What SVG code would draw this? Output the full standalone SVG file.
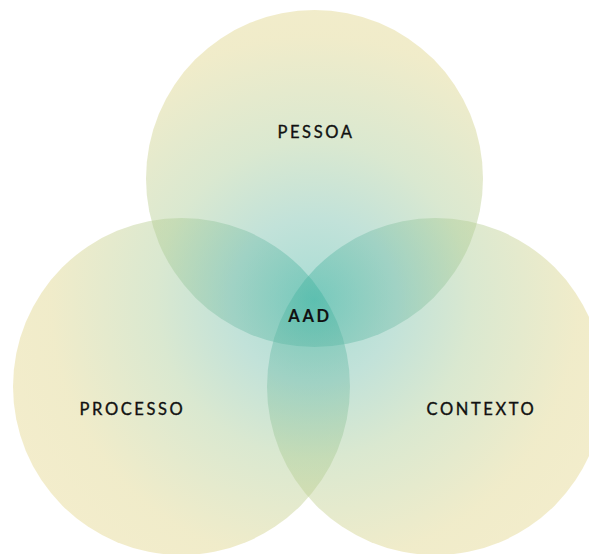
<svg xmlns="http://www.w3.org/2000/svg" width="589" height="554" viewBox="0 0 589 554">
  <defs>
    <radialGradient id="g" gradientUnits="userSpaceOnUse" cx="314" cy="300" r="330">
      <stop offset="0" stop-color="rgb(60,178,160)"/>
      <stop offset="0.25" stop-color="rgb(118,190,170)"/>
      <stop offset="0.48" stop-color="rgb(172,204,150)"/>
      <stop offset="0.8" stop-color="rgb(222,212,136)"/>
      <stop offset="1" stop-color="rgb(228,214,140)"/>
    </radialGradient>
  </defs>
  <style>
    .c { fill: url(#g); fill-opacity: 0.447; }
    .t { font-family: "Lato", "Liberation Sans", sans-serif; font-size: 16.5px; letter-spacing: 2.6px; fill: #111; stroke: #111; stroke-width: 0.35; text-anchor: middle; }
    .b { font-weight: bold; stroke-width: 0.1; }
  </style>
  <rect width="589" height="554" fill="#ffffff"/>
  <g id="pessoa">
    <circle class="c" cx="314.5" cy="178.5" r="168.5"/>
    <text class="t" x="316" y="138">PESSOA</text>
  </g>
  <g id="processo">
    <circle class="c" cx="181.5" cy="386.5" r="168.5"/>
    <text class="t" x="132.5" y="415">PROCESSO</text>
  </g>
  <g id="contexto">
    <circle class="c" cx="435.5" cy="386.5" r="168.5"/>
    <text class="t" x="481.5" y="415">CONTEXTO</text>
  </g>
  <g id="aad">
    <text class="t b" x="310" y="322">AAD</text>
  </g>
</svg>
